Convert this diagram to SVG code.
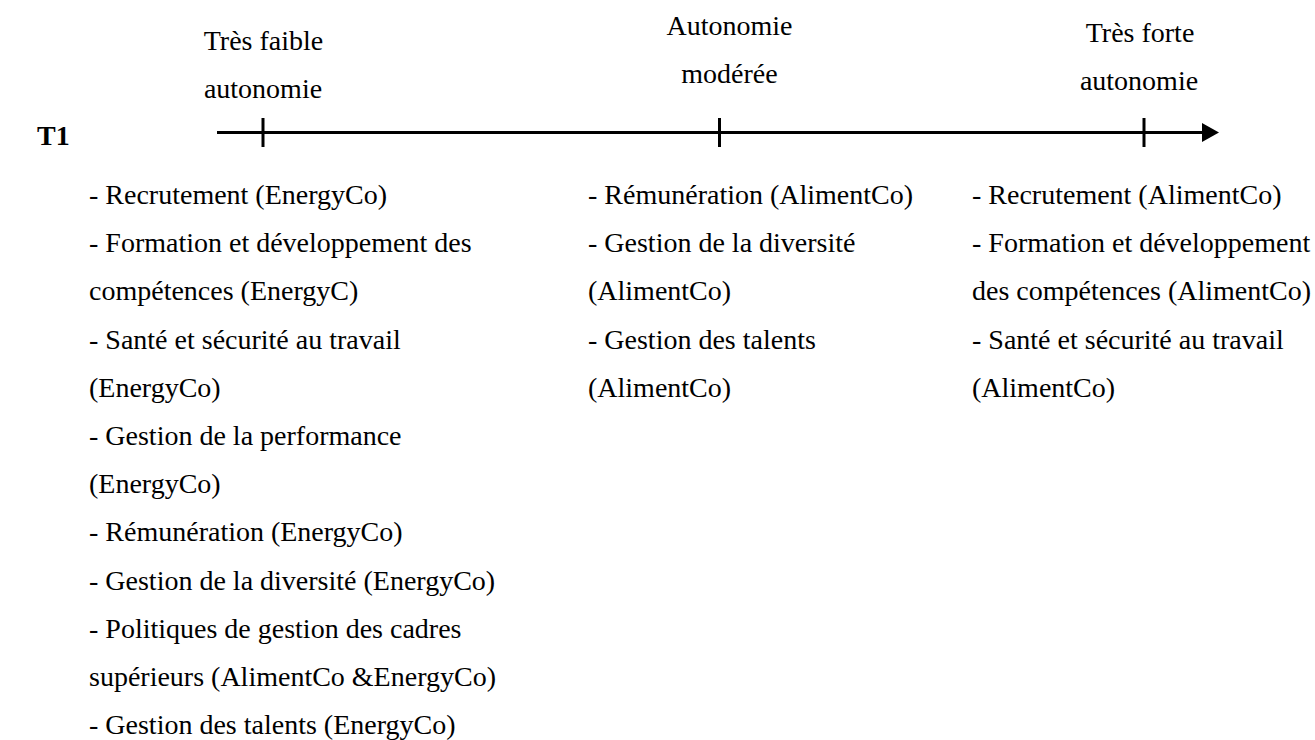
<svg xmlns="http://www.w3.org/2000/svg" width="1315" height="740" viewBox="0 0 1315 740">
  <style>
    text { font-family: "Liberation Serif", "Times New Roman", serif; font-size: 28px; fill: #000; }
    .mid { text-anchor: middle; }
    .bold { font-weight: bold; }
    .axis { stroke: #000; stroke-width: 3; fill: none; }
  </style>
  <defs>
    <marker id="arrow" markerWidth="18" markerHeight="20" refX="1" refY="10" orient="auto" markerUnits="userSpaceOnUse">
      <polygon points="0,0.5 17,10 0,19.5" fill="#000"/>
    </marker>
  </defs>
  <rect width="1315" height="740" fill="#fff"/>

  <!-- row label -->
  <g id="row-t1">
    <text class="bold" x="37" y="145">T1</text>
  </g>

  <!-- autonomy scale -->
  <g id="connectors">
    <line class="axis" x1="217" y1="132.5" x2="1203" y2="132.5" marker-end="url(#arrow)"/>
    <line class="axis" x1="263" y1="118" x2="263" y2="147"/>
    <line class="axis" x1="719.5" y1="118" x2="719.5" y2="147"/>
    <line class="axis" x1="1144" y1="118" x2="1144" y2="147"/>
  </g>

  <!-- scale labels -->
  <g id="label-low">
    <text class="mid" x="263.5" y="50">Très faible</text>
    <text class="mid" x="263" y="98">autonomie</text>
  </g>
  <g id="label-mid">
    <text class="mid" x="729.5" y="35">Autonomie</text>
    <text class="mid" x="729.5" y="83">modérée</text>
  </g>
  <g id="label-high">
    <text class="mid" x="1140" y="42">Très forte</text>
    <text class="mid" x="1139" y="90">autonomie</text>
  </g>

  <!-- practices with very low autonomy -->
  <g id="list-low">
    <text x="89" y="204">- Recrutement (EnergyCo)</text>
    <text x="89" y="252.2">- Formation et développement des</text>
    <text x="89" y="300.4">compétences (EnergyC)</text>
    <text x="89" y="348.6">- Santé et sécurité au travail</text>
    <text x="89" y="396.8">(EnergyCo)</text>
    <text x="89" y="445">- Gestion de la performance</text>
    <text x="89" y="493.2">(EnergyCo)</text>
    <text x="89" y="541.4">- Rémunération (EnergyCo)</text>
    <text x="89" y="589.6">- Gestion de la diversité (EnergyCo)</text>
    <text x="89" y="637.8">- Politiques de gestion des cadres</text>
    <text x="89" y="686">supérieurs (AlimentCo &amp;EnergyCo)</text>
    <text x="89" y="734.2">- Gestion des talents (EnergyCo)</text>
  </g>

  <!-- practices with moderate autonomy -->
  <g id="list-mid">
    <text x="588" y="204">- Rémunération (AlimentCo)</text>
    <text x="588" y="252.2">- Gestion de la diversité</text>
    <text x="588" y="300.4">(AlimentCo)</text>
    <text x="588" y="348.6">- Gestion des talents</text>
    <text x="588" y="396.8">(AlimentCo)</text>
  </g>

  <!-- practices with very high autonomy -->
  <g id="list-high">
    <text x="972" y="204">- Recrutement (AlimentCo)</text>
    <text x="972" y="252.2">- Formation et développement</text>
    <text x="972" y="300.4">des compétences (AlimentCo)</text>
    <text x="972" y="348.6">- Santé et sécurité au travail</text>
    <text x="972" y="396.8">(AlimentCo)</text>
  </g>
</svg>
